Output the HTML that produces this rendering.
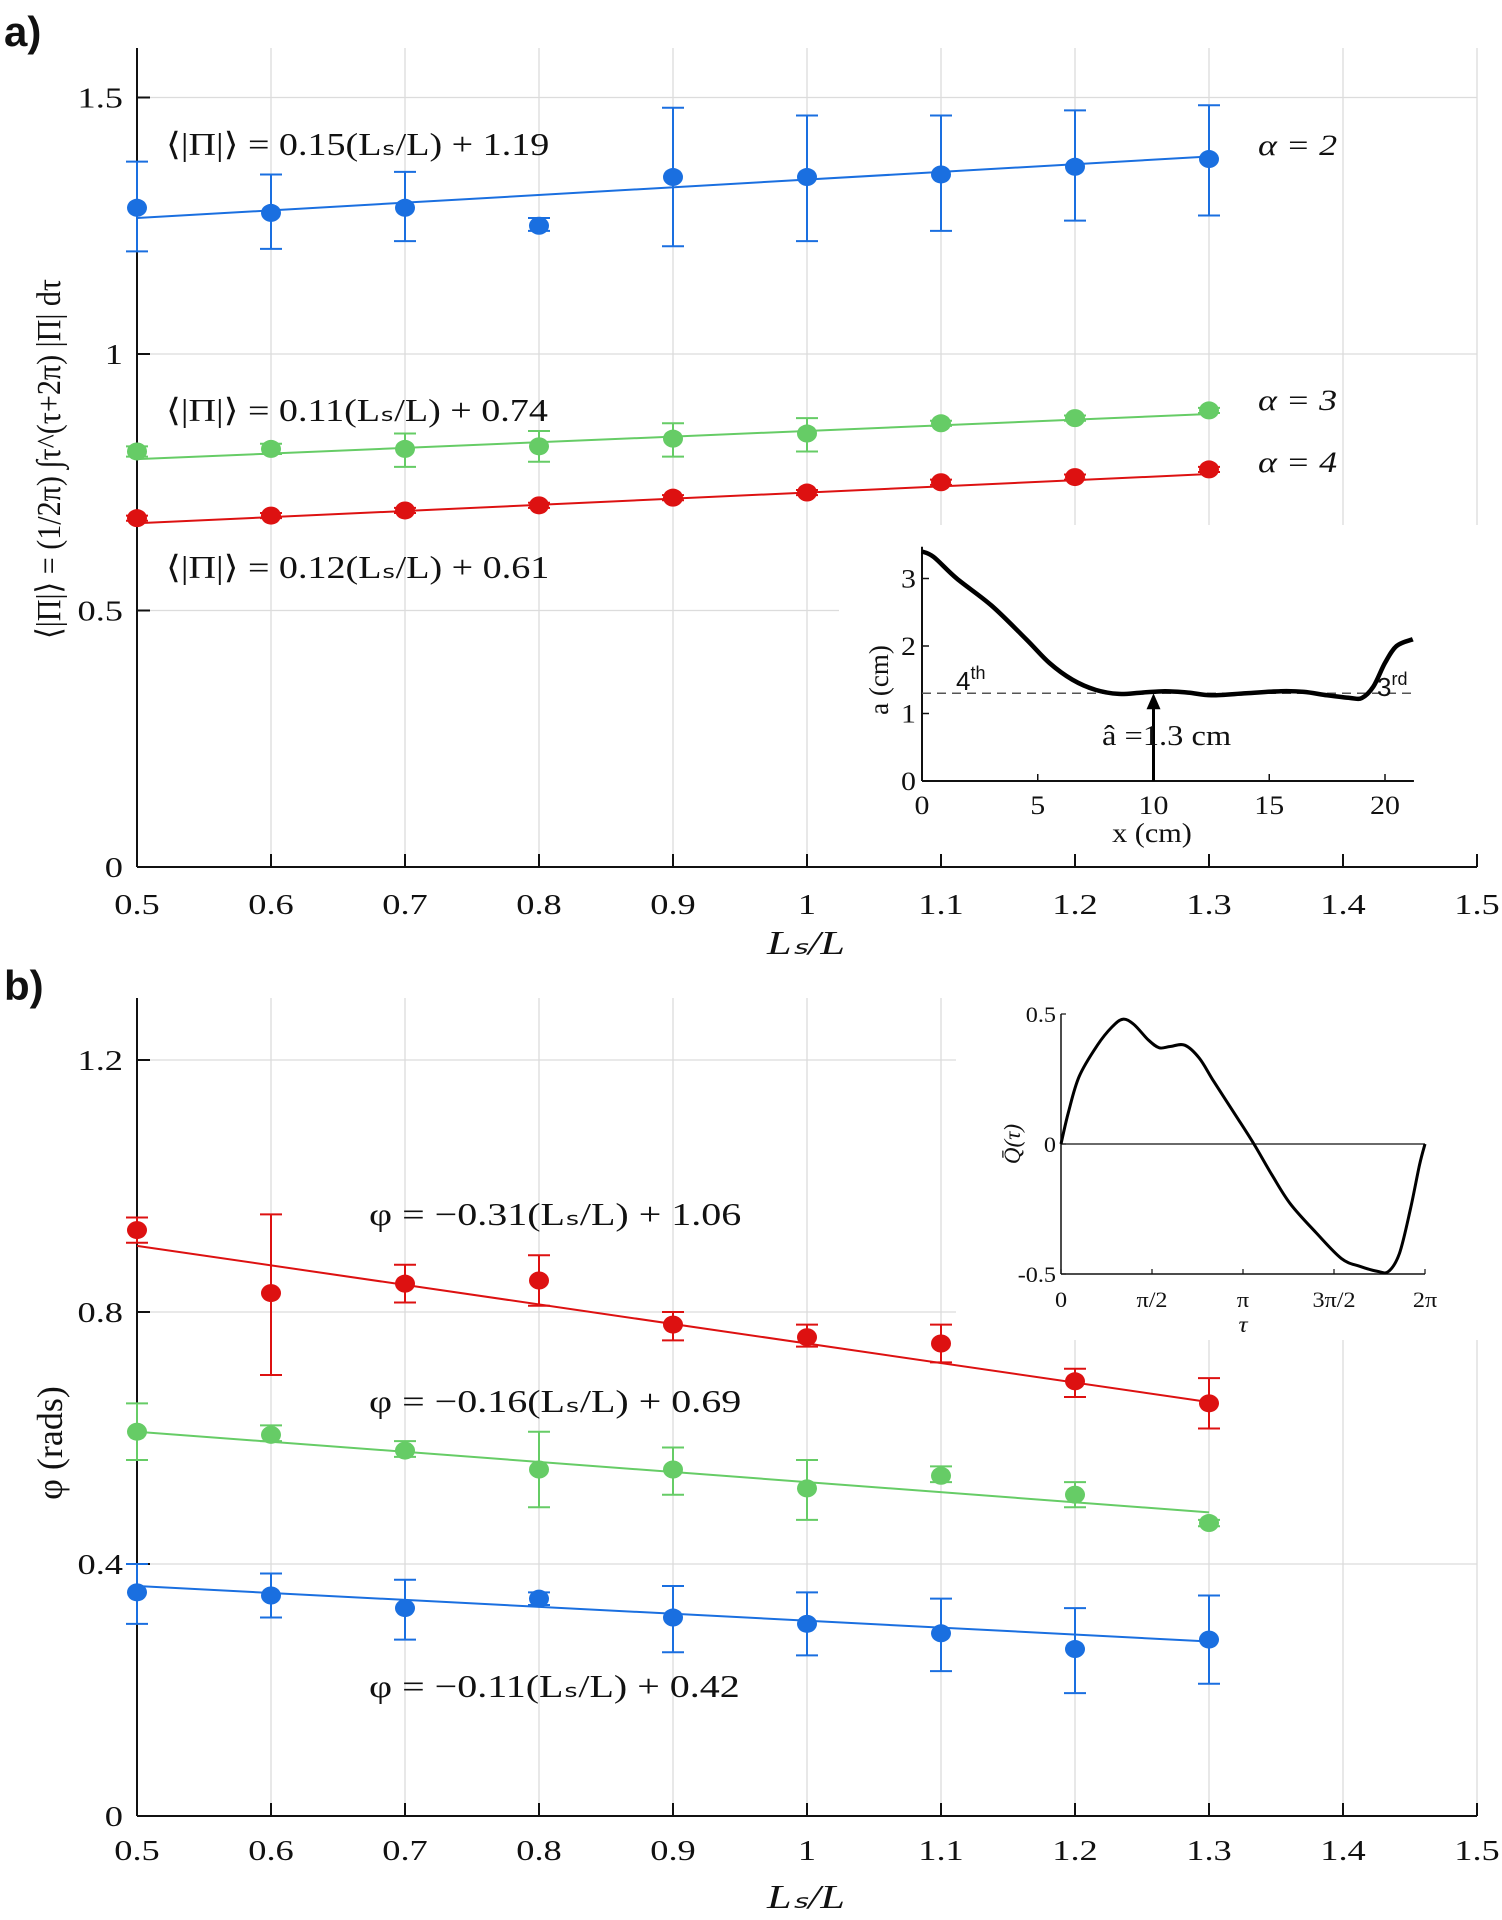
<!DOCTYPE html>
<html><head><meta charset="utf-8"><style>
html,body{margin:0;padding:0;background:#fff;}
svg{display:block;}
text{font-family:"Liberation Serif",serif;fill:#111;}
</style></head><body>
<svg id="fig" width="1502" height="1920" viewBox="0 0 1502 1920" xmlns="http://www.w3.org/2000/svg">
<rect width="1502" height="1920" fill="#fff"/>
<text x="4" y="46" style="font-family:'Liberation Sans',sans-serif;font-weight:bold;font-size:42px">a)</text>
<text x="4" y="1000" style="font-family:'Liberation Sans',sans-serif;font-weight:bold;font-size:42px">b)</text>
</svg>
<script>
// ===== Panel a data =====
const xCats=[0.5,0.6,0.7,0.8,0.9,1.0,1.1,1.2,1.3];
const aBlue=[1.285,1.275,1.285,1.25,1.345,1.345,1.35,1.365,1.38];
const aBlueLo=[1.20,1.205,1.22,1.24,1.21,1.22,1.24,1.26,1.27];
const aBlueHi=[1.375,1.35,1.355,1.265,1.48,1.465,1.465,1.475,1.485];
const aGreen=[0.81,0.815,0.815,0.82,0.835,0.845,0.865,0.875,0.89];
const aGreenLo=[0.80,0.805,0.78,0.79,0.80,0.81,0.86,0.87,0.885];
const aGreenHi=[0.82,0.825,0.845,0.85,0.865,0.875,0.87,0.88,0.895];
const aRed=[0.68,0.685,0.695,0.705,0.72,0.73,0.75,0.76,0.775];
const aRedLo=[0.675,0.68,0.69,0.70,0.715,0.725,0.745,0.755,0.77];
const aRedHi=[0.685,0.69,0.70,0.71,0.725,0.735,0.755,0.765,0.78];
const aFitSlope=[0.15,0.11,0.12];
const aFitIcpt=[1.19,0.74,0.61];
const xTicks=[0.5,0.6,0.7,0.8,0.9,1,1.1,1.2,1.3,1.4,1.5];
const xTickLabels=["0.5","0.6","0.7","0.8","0.9","1","1.1","1.2","1.3","1.4","1.5"];
const aYTicks=[0,0.5,1,1.5];
const aYTickLabels=["0","0.5","1","1.5"];
// inset a: a(x) profile
const insXs=[0,0.5,1.5,3,4.5,5.5,6.5,7.5,8.5,9.5,10.5,11.5,12.5,14,15.5,16.5,17.5,18.5,19,19.5,20,20.5,21.2];
const insAs=[3.4,3.32,3.0,2.6,2.1,1.75,1.5,1.35,1.29,1.31,1.33,1.31,1.27,1.3,1.33,1.32,1.27,1.23,1.23,1.4,1.75,2.0,2.1];
const insXTicks=[0,5,10,15,20];
const insYTicks=[0,1,2,3];
const aHat=1.3;
// ===== Panel b data =====
const bRed=[0.93,0.83,0.845,0.85,0.78,0.76,0.75,0.69,0.655];
const bRedLo=[0.91,0.70,0.815,0.81,0.755,0.745,0.72,0.665,0.615];
const bRedHi=[0.95,0.955,0.875,0.89,0.80,0.78,0.78,0.71,0.695];
const bGreen=[0.61,0.605,0.58,0.55,0.55,0.52,0.54,0.51,0.465];
const bGreenLo=[0.565,0.595,0.57,0.49,0.51,0.47,0.53,0.49,0.46];
const bGreenHi=[0.655,0.62,0.595,0.61,0.585,0.565,0.555,0.53,0.47];
const bBlue=[0.355,0.35,0.33,0.345,0.315,0.305,0.29,0.265,0.28];
const bBlueLo=[0.305,0.315,0.28,0.335,0.26,0.255,0.23,0.195,0.21];
const bBlueHi=[0.40,0.385,0.375,0.355,0.365,0.355,0.345,0.33,0.35];
const bFitSlope=[-0.31,-0.16,-0.11];
const bFitIcpt=[1.06,0.69,0.42];
const bYTicks=[0,0.4,0.8,1.2];
const bYTickLabels=["0","0.4","0.8","1.2"];
// inset b: Q(tau), tau as fraction of 2π
const qTau=[0,0.02,0.05,0.1,0.14,0.17,0.2,0.24,0.27,0.3,0.34,0.38,0.42,0.48,0.53,0.58,0.63,0.7,0.77,0.82,0.87,0.9,0.93,0.96,0.985,1];
const qVal=[0,0.12,0.26,0.38,0.45,0.48,0.46,0.40,0.37,0.375,0.38,0.33,0.24,0.11,0,-0.12,-0.23,-0.34,-0.44,-0.47,-0.49,-0.49,-0.42,-0.25,-0.08,0];
const qTickLabels=["0","π/2","π","3π/2","2π"];

const NS="http://www.w3.org/2000/svg";
const svg=document.getElementById('fig');
function mk(tag,attrs,parent){const e=document.createElementNS(NS,tag);for(const k in attrs)e.setAttribute(k,attrs[k]);(parent||svg).appendChild(e);return e;}
function txt(x,y,s,size,anchor,sx,parent,italic){
  const g=mk('g',{transform:`translate(${x},${y}) scale(${sx||1.3},1)`},parent);
  const t=mk('text',{x:0,y:0,'font-size':size,'text-anchor':anchor||'start'},g);
  if(italic)t.setAttribute('font-style','italic');
  t.textContent=s;return t;}
function smooth(pts){let d=`M${pts[0][0]},${pts[0][1]}`;
  for(let i=0;i<pts.length-1;i++){const p0=pts[Math.max(0,i-1)],p1=pts[i],p2=pts[i+1],p3=pts[Math.min(pts.length-1,i+2)];
    d+=` C${p1[0]+(p2[0]-p0[0])/6},${p1[1]+(p2[1]-p0[1])/6} ${p2[0]-(p3[0]-p1[0])/6},${p2[1]-(p3[1]-p1[1])/6} ${p2[0]},${p2[1]}`;}
  return d;}

const X=v=>137+(v-0.5)*1340;
const BLUE="#1a6fe0",GREEN="#66cc66",RED="#dd1111";

function panel(top,Y,yTicks,yLabels,yMax,series,fits,tickBase,inset){
  const bottom=Y(0);
  const g=mk('g',{});
  
  
  xTicks.forEach(v=>{const l=mk('line',{x1:X(v),x2:X(v),y1:top,y2:bottom,stroke:'#dcdcdc','stroke-width':1.3},g);
    });
  yTicks.forEach(v=>{if(v===0)return;const l=mk('line',{x1:X(0.5),x2:X(1.5),y1:Y(v),y2:Y(v),stroke:'#dcdcdc','stroke-width':1.3},g);
    });
  const wb=mk('rect',{x:inset[0],y:inset[1],width:inset[2]-inset[0],height:inset[3]-inset[1],fill:'#fff'},g);
  
  mk('line',{x1:X(0.5),x2:X(0.5),y1:top,y2:bottom,stroke:'#111','stroke-width':2},g);
  mk('line',{x1:X(0.5),x2:X(1.5),y1:bottom,y2:bottom,stroke:'#111','stroke-width':2},g);
  xTicks.forEach((v,i)=>{mk('line',{x1:X(v),x2:X(v),y1:bottom,y2:bottom-13,stroke:'#111','stroke-width':2},g);
    const t=txt(X(v),tickBase,xTickLabels[i],28,'middle',1.3);
    });
  yTicks.forEach((v,i)=>{mk('line',{x1:X(0.5),x2:X(0.5)+13,y1:Y(v),y2:Y(v),stroke:'#111','stroke-width':2},g);
    const t=txt(X(0.5)-14,Y(v)+10,yLabels[i],28,'end',1.3);
    });
  series.forEach((s,si)=>{
    const fl=mk('line',{x1:X(0.5),x2:X(1.3),y1:Y(fits[0][si]*0.5+fits[1][si]),y2:Y(fits[0][si]*1.3+fits[1][si]),stroke:s.c,'stroke-width':2},g);
    
    xCats.forEach((xv,i)=>{
      const eb=mk('path',{d:`M${X(xv)},${Y(s.lo[i])}V${Y(s.hi[i])}M${X(xv)-11},${Y(s.lo[i])}h22M${X(xv)-11},${Y(s.hi[i])}h22`,stroke:s.c,'stroke-width':2,fill:'none'},g);
      
      const c=mk('ellipse',{cx:X(xv),cy:Y(s.v[i]),rx:10,ry:9,fill:s.c},g);
      
    });
  });
}

const Ya=v=>867-v*513;
panel(48,Ya,aYTicks,aYTickLabels,1.6,[
  {n:'alpha2',c:BLUE,v:aBlue,lo:aBlueLo,hi:aBlueHi},
  {n:'alpha3',c:GREEN,v:aGreen,lo:aGreenLo,hi:aGreenHi},
  {n:'alpha4',c:RED,v:aRed,lo:aRedLo,hi:aRedHi}],[aFitSlope,aFitIcpt],914,[839,525,1490,865]);
const Yb=v=>1816-v*630;
panel(998,Yb,bYTicks,bYTickLabels,1.3,[
  {n:'phase-alpha4',c:RED,v:bRed,lo:bRedLo,hi:bRedHi},
  {n:'phase-alpha3',c:GREEN,v:bGreen,lo:bGreenLo,hi:bGreenHi},
  {n:'phase-alpha2',c:BLUE,v:bBlue,lo:bBlueLo,hi:bBlueHi}],[bFitSlope,bFitIcpt],1860,[956,998,1490,1340]);

[[155,'⟨|Π|⟩ = 0.15(Lₛ/L) + 1.19'],[421,'⟨|Π|⟩ = 0.11(Lₛ/L) + 0.74'],[578,'⟨|Π|⟩ = 0.12(Lₛ/L) + 0.61']].forEach(e=>{
  const t=txt(166,e[0],e[1],32,'start',1.19);});
[[155,'α = 2'],[410,'α = 3'],[472,'α = 4']].forEach(e=>{
  const t=txt(1258,e[0],e[1],30,'start',1.2,null,true);});
[[1225,'φ = −0.31(Lₛ/L) + 1.06'],[1412,'φ = −0.16(Lₛ/L) + 0.69'],[1697,'φ = −0.11(Lₛ/L) + 0.42']].forEach(e=>{
  const t=txt(369,e[0],e[1],32,'start',1.25);});
let t=txt(806,954,'Lₛ/L',34,'middle',1.3,null,true);
t=txt(806,1908,'Lₛ/L',34,'middle',1.3,null,true);
let yl=mk('text',{x:0,y:0,'font-size':34,'text-anchor':'middle',transform:'translate(60,459) rotate(-90)',textLength:360,lengthAdjust:'spacingAndGlyphs'});
yl.textContent='⟨|Π|⟩ = (1/2π) ∫τ^(τ+2π) |Π| dτ';

yl=mk('text',{x:0,y:0,'font-size':36,'text-anchor':'middle',transform:'translate(62,1443) rotate(-90)'});
yl.textContent='φ  (rads)';


// ===== Inset a =====
const IX=v=>922+v*23.15, IY=v=>781-v*67.5;
const ia=mk('g',{});
mk('line',{x1:922,x2:922,y1:IY(3.47),y2:781,stroke:'#111','stroke-width':2},ia);
mk('line',{x1:922,x2:IX(21.25),y1:781,y2:781,stroke:'#111','stroke-width':2},ia);
insXTicks.forEach(v=>{mk('line',{x1:IX(v),x2:IX(v),y1:781,y2:774,stroke:'#111','stroke-width':1.5},ia);txt(IX(v),814,String(v),26,'middle',1.15,ia);});
insYTicks.forEach(v=>{mk('line',{x1:922,x2:929,y1:IY(v),y2:IY(v),stroke:'#111','stroke-width':1.5},ia);txt(916,IY(v)+9,String(v),26,'end',1.15,ia);});
mk('line',{x1:922,x2:IX(21.25),y1:IY(aHat),y2:IY(aHat),stroke:'#555','stroke-width':1.5,'stroke-dasharray':'9 6'},ia);
const curveA=mk('path',{d:smooth(insXs.map((v,i)=>[IX(v),IY(insAs[i])])),stroke:'#000','stroke-width':4.5,fill:'none'},ia);

mk('line',{x1:IX(10),x2:IX(10),y1:781,y2:IY(aHat)+12,stroke:'#000','stroke-width':3},ia);
mk('path',{d:`M${IX(10)},${IY(aHat)} l-7,16 h14 z`,fill:'#000'},ia);
let s=mk('text',{x:956,y:690,'font-size':26,style:"font-family:'Liberation Sans',sans-serif"},ia);s.innerHTML='4<tspan dy="-11" font-size="18">th</tspan>';
s=mk('text',{x:1377,y:696,'font-size':26,style:"font-family:'Liberation Sans',sans-serif"},ia);s.innerHTML='3<tspan dy="-11" font-size="18">rd</tspan>';
txt(1102,745,'â =1.3 cm',29,'start',1.12,ia);
txt(1152,842,'x (cm)',27,'middle',1.12,ia);
mk('text',{x:0,y:0,'font-size':27,'text-anchor':'middle',transform:'translate(888,680) rotate(-90)'},ia).textContent='a (cm)';

// ===== Inset b =====
const QX=v=>1061+v*364, QY=v=>1144-v*260;
const ib=mk('g',{});
mk('line',{x1:1061,x2:1061,y1:QY(0.5),y2:QY(-0.5),stroke:'#111','stroke-width':1.5},ib);
mk('line',{x1:1061,x2:1425,y1:QY(-0.5),y2:QY(-0.5),stroke:'#111','stroke-width':1.5},ib);
mk('line',{x1:1061,x2:1425,y1:QY(0),y2:QY(0),stroke:'#111','stroke-width':1.2},ib);
qTickLabels.forEach((l,i)=>{const x=QX(i/4);mk('line',{x1:x,x2:x,y1:QY(-0.5),y2:QY(-0.5)-5,stroke:'#111','stroke-width':1.2},ib);txt(x,1307,l,22,'middle',1.1,ib);});
[0.5,0,-0.5].forEach(v=>{mk('line',{x1:1061,x2:1066,y1:QY(v),y2:QY(v),stroke:'#111','stroke-width':1.2},ib);txt(1056,QY(v)+8,String(v),22,'end',1.1,ib);});
const curveQ=mk('path',{d:smooth(qTau.map((v,i)=>[QX(v),QY(qVal[i])])),stroke:'#000','stroke-width':3,fill:'none'},ib);

txt(1243,1332,'τ',23,'middle',1.1,ib,true);
mk('text',{x:0,y:0,'font-size':23,'text-anchor':'middle','font-style':'italic',transform:'translate(1020,1144) rotate(-90)'},ib).textContent='Q̄(τ)';
</script>
</body></html>
